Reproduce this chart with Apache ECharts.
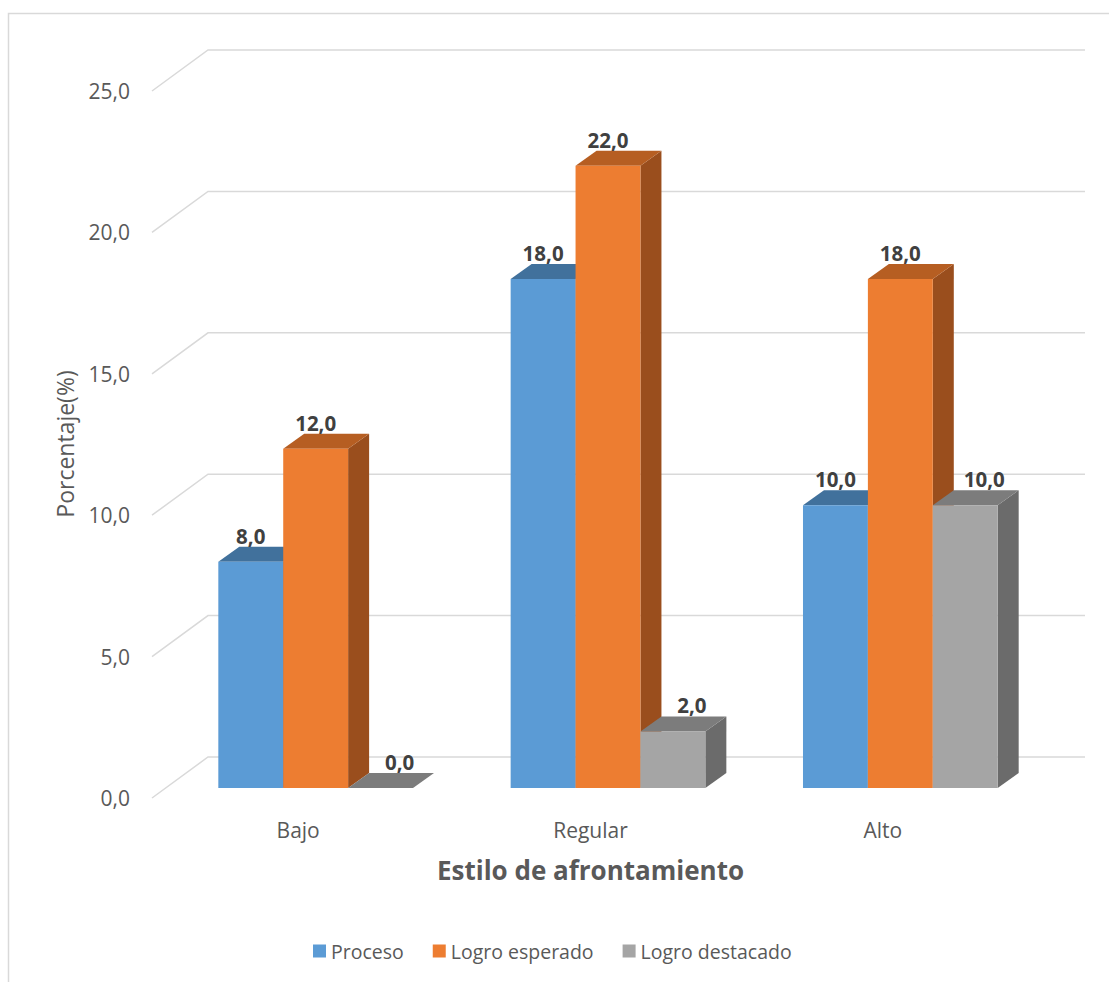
<!DOCTYPE html>
<html>
<head>
<meta charset="utf-8">
<script src="https://cdn.jsdelivr.net/npm/echarts@6/dist/echarts.min.js"></script>
<style>
html,body{margin:0;padding:0;background:#fff;}
#main{width:1109px;height:982px;}
</style>
</head>
<body>
<div id="main"></div>
<script>
// ---- data ----
const categories = ['Bajo', 'Regular', 'Alto'];
const proceso = [8.0, 18.0, 10.0];
const logroEsperado = [12.0, 22.0, 18.0];
const logroDestacado = [0.0, 2.0, 10.0];
const seriesNames = ['Proceso', 'Logro esperado', 'Logro destacado'];
const yTicks = [0, 5, 10, 15, 20, 25];

// ---- style ----
const TEXT = '#595959';
const FONT = '"Open Sans", sans-serif';
const SX = 17.5, SY = -10;   // bar plane offset from axis plane
const DX = 21, DY = -15;     // bar depth
const WX = 56, WY = -41;     // back wall offset
const palettes = [
  { front: '#5B9BD5', top: '#41719C', side: '#2E5A84', shift: 0 },
  { front: '#ED7D31', top: '#B65E22', side: '#9A4E1D', shift: 0 },
  { front: '#A5A5A5', top: '#7C7C7C', side: '#6B6B6B', shift: 19 }
];
const fmt = v => v.toFixed(1).replace('.', ',');

function barRenderer(j) {
  const pal = palettes[j];
  return function (params, api) {
    const i = api.value(0), v = api.value(1);
    const base = api.coord([i, 0]);
    const top = api.coord([i, v]);
    const band = api.size([1, 0])[0];
    const bw = band * 0.222;
    const x0 = base[0] + SX + (j - 1.5) * bw;
    const x1 = x0 + bw;
    const yb = base[1] + SY;
    const yt = top[1] + SY;
    const children = [];
    if (yb - yt > 0.5) {
      children.push({ type: 'polygon', shape: { points: [[x1, yt], [x1 + DX, yt + DY], [x1 + DX, yb + DY], [x1, yb]] }, style: { fill: pal.side } });
    }
    children.push({ type: 'polygon', shape: { points: [[x0, yt], [x1, yt], [x1 + DX, yt + DY], [x0 + DX, yt + DY]] }, style: { fill: pal.top } });
    if (yb - yt > 0.5) {
      children.push({ type: 'rect', shape: { x: x0, y: yt, width: bw, height: yb - yt }, style: { fill: pal.front } });
    }
    children.push({
      type: 'text',
      style: {
        text: fmt(v), x: (x0 + x1) / 2 + pal.shift, y: yt + DY - 11,
        fill: '#404040', font: 'bold 20.5px ' + FONT,
        textAlign: 'center', textVerticalAlign: 'middle'
      }
    });
    return { type: 'group', children };
  };
}

function gridRenderer(params, api) {
  const cs = params.coordSys;
  const y = api.coord([0, api.value(1)])[1];
  const x = cs.x;
  return {
    type: 'polyline',
    shape: { points: [[x, y], [x + WX, y + WY], [x + cs.width + WX, y + WY]] },
    style: { stroke: '#D9D9D9', lineWidth: 1.5, fill: null }
  };
}

const valueSets = [proceso, logroEsperado, logroDestacado];

const chart = echarts.init(document.getElementById('main'), null, { renderer: 'svg' });
chart.setOption({
  backgroundColor: '#fff',
  animation: false,
  grid: { left: 152, top: 91, width: 877, height: 707 },
  xAxis: {
    type: 'category', data: categories,
    axisLine: { show: false }, axisTick: { show: false }, splitLine: { show: false },
    axisLabel: { color: TEXT, fontSize: 21, fontFamily: FONT, margin: 21 },
    name: 'Estilo de afrontamiento', nameLocation: 'middle', nameGap: 59,
    nameTextStyle: { color: TEXT, fontSize: 26, fontWeight: 'bold', fontFamily: FONT }
  },
  yAxis: {
    type: 'value', min: 0, max: 25, interval: 5,
    axisLine: { show: false }, axisTick: { show: false }, splitLine: { show: false },
    axisLabel: { color: TEXT, fontSize: 21, fontFamily: FONT, margin: 22, padding: [6, 0, 0, 0], formatter: v => fmt(v) }
  },
  legend: {
    data: seriesNames, left: 313, top: 941, padding: 0,
    icon: 'rect', itemWidth: 13, itemHeight: 13, itemGap: 29,
    textStyle: { color: TEXT, fontSize: 19.5, fontFamily: FONT }
  },
  graphic: [
    { type: 'rect', shape: { x: 8.5, y: 13.5, width: 1200, height: 1100 }, style: { fill: null, stroke: '#D9D9D9', lineWidth: 1.5 }, z: -10 },
    { type: 'text', x: 65, y: 444, rotation: Math.PI / 2,
      style: { text: 'Porcentaje(%)', fill: TEXT, font: '23px ' + FONT, textAlign: 'center', textVerticalAlign: 'middle' } }
  ],
  series: [
    {
      type: 'custom', name: 'grid', silent: true, z: 1,
      renderItem: gridRenderer,
      data: yTicks.map(v => [0, v]),
      encode: { x: 0, y: 1 }
    }
  ].concat(valueSets.map((vals, j) => ({
    type: 'custom', name: seriesNames[j], z: 2 + j,
    itemStyle: { color: palettes[j].front },
    renderItem: barRenderer(j),
    data: vals.map((v, i) => [i, v]),
    encode: { x: 0, y: 1 }
  })))
});
</script>
</body>
</html>
